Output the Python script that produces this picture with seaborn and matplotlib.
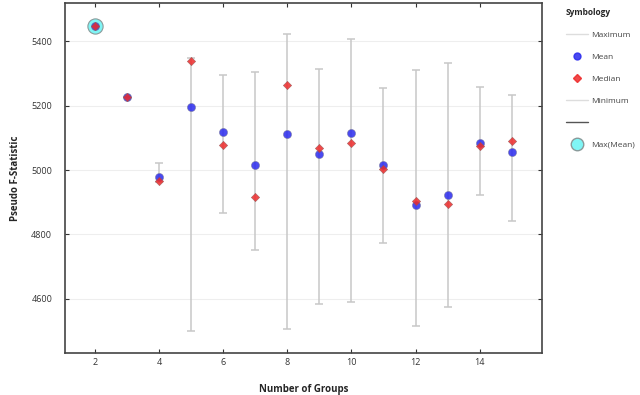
import seaborn as sns
import matplotlib.pyplot as plt
import pandas as pd
from matplotlib.lines import Line2D

# values
groups = [2, 3, 4, 5, 6, 7, 8, 9, 10, 11, 12, 13, 14, 15]
mean_f = [5447, 5228, 4977, 5196, 5118, 5016, 5113, 5050, 5115, 5017, 4892, 4921, 5083, 5055]
median_f = [5447, 5228, 4965, 5338, 5077, 4915, 5266, 5068, 5085, 5002, 4903, 4894, 5074, 5091]
max_f = [5447, 5228, 5022, 5349, 5297, 5304, 5422, 5313, 5408, 5254, 5311, 5332, 5257, 5234]
min_f = [5447, 5228, 4962, 4501, 4865, 4751, 4507, 4582, 4590, 4773, 4515, 4573, 4924, 4842]

df = pd.DataFrame({"groups": groups, "mean": mean_f, "median": median_f,
                   "max": max_f, "min": min_f})

sns.set_style("white")
plt.rcParams['font.family'] = ['Open Sans', 'DejaVu Sans']

fig = plt.figure(figsize=(6.4, 3.95), dpi=100)
ax = fig.add_axes([0.101, 0.107, 0.746, 0.885])

# min-max range as grey whiskers
ax.errorbar(df["groups"], df["mean"],
            yerr=[df["mean"] - df["min"], df["max"] - df["mean"]],
            fmt="none", ecolor="#c8c8c8", elinewidth=1.1, capsize=2.6, capthick=1.1, zorder=2)

# max(mean) highlight
best = df.loc[df["mean"].idxmax()]
ax.scatter([best["groups"]], [best["mean"]], s=120, color="#7ff5f5",
           edgecolor="#8a9a9a", linewidth=0.8, zorder=3)

sns.scatterplot(data=df, x="groups", y="mean", ax=ax, color="#2a2aee", s=34,
                alpha=0.85, edgecolor="#777799", linewidth=0.4, zorder=4)
sns.scatterplot(data=df, x="groups", y="median", ax=ax, color="#ee2a2a", marker="D", s=18,
                alpha=0.85, edgecolor="#995555", linewidth=0.4, zorder=5)

ax.set_xlim(1.05, 15.95)
ax.set_ylim(4432, 5519)
ax.set_xticks([2, 4, 6, 8, 10, 12, 14])
ax.set_yticks([4600, 4800, 5000, 5200, 5400])
ax.yaxis.grid(True, color="#eeeeee", linewidth=0.8)
ax.set_axisbelow(True)
ax.tick_params(axis="both", labelsize=6.5, colors="#333333", direction="in",
               length=3, width=0.8, top=True, right=True, left=True, bottom=True,
               labelcolor="#333333")
ax.tick_params(axis="x", pad=4)
ax.tick_params(axis="y", pad=9)
for s in ax.spines.values():
    s.set_color("#444444")
    s.set_linewidth(1.2)

ax.set_xlabel("Number of Groups", fontsize=7, fontweight="bold", labelpad=12)
ax.set_ylabel("Pseudo F-Statistic", fontsize=7, fontweight="bold", labelpad=7)

handles = [
    Line2D([], [], color="#dddddd", linewidth=1),
    Line2D([], [], marker="o", linestyle="none", color="#2a2aee", markersize=5, alpha=0.85),
    Line2D([], [], marker="D", linestyle="none", color="#ee2a2a", markersize=4.5, alpha=0.85),
    Line2D([], [], color="#dddddd", linewidth=1),
    Line2D([], [], color="#555555", linewidth=1),
    Line2D([], [], marker="o", linestyle="none", color="#7ff5f5", markersize=9,
           markeredgecolor="#8a9a9a"),
]
labels = ["Maximum", "Mean", "Median", "Minimum", "", "Max(Mean)"]
leg = fig.legend(handles, labels, loc="upper left", bbox_to_anchor=(0.884, 0.98),
                 frameon=False, fontsize=6, title="Symbology", handlelength=2.7,
                 handletextpad=0.4, labelspacing=1.7, alignment="left", borderaxespad=0,
                 borderpad=0)
leg.get_title().set_fontweight("bold")
leg.get_title().set_fontsize(6)
for t in leg.get_texts():
    t.set_color("#444444")

fig.savefig("out.png", dpi=100)
